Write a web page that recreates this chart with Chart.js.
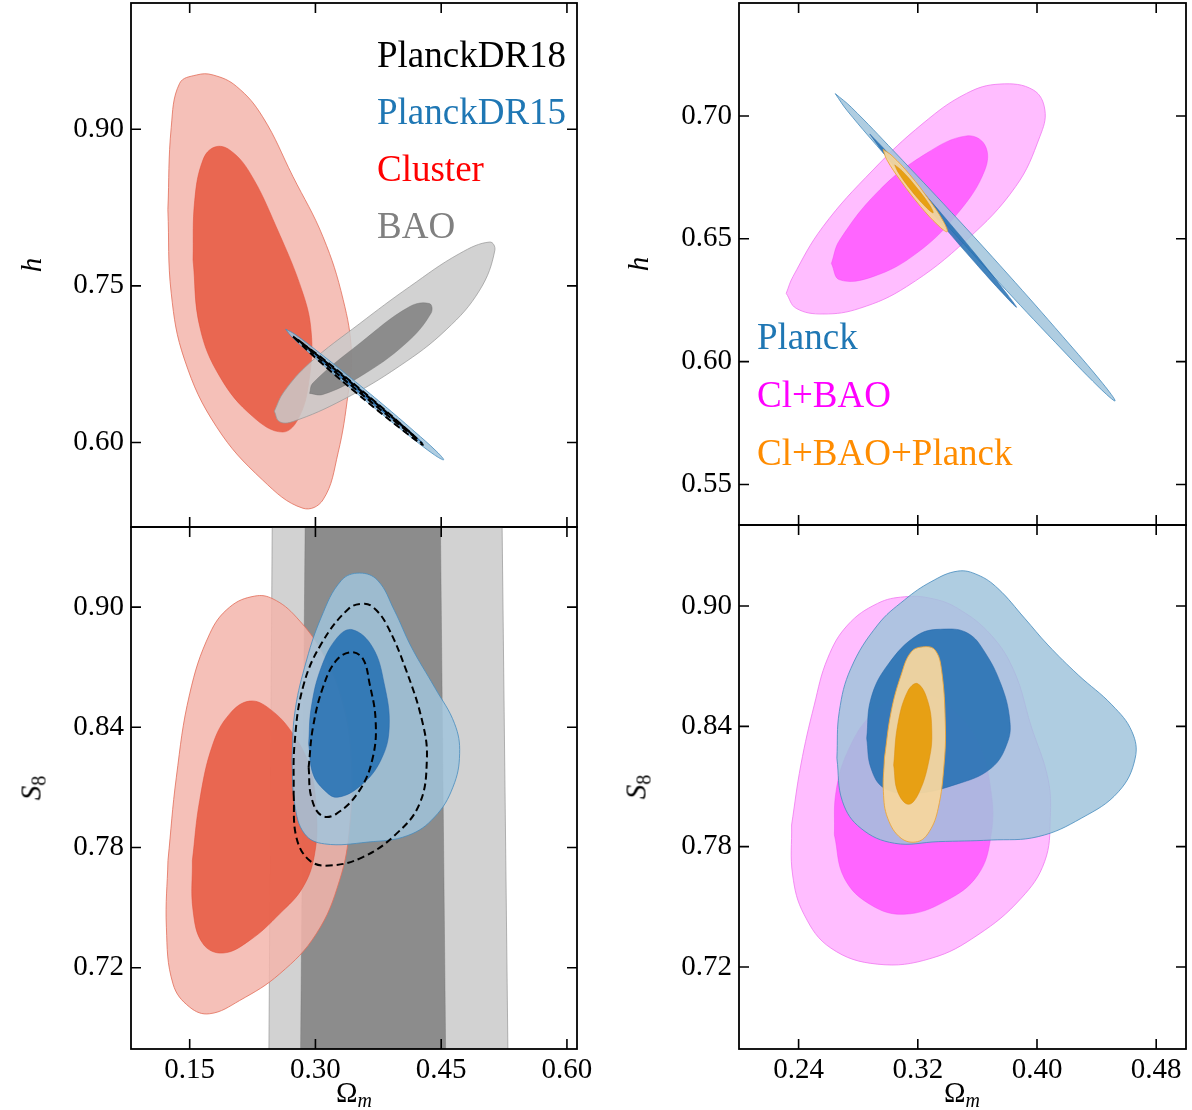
<!DOCTYPE html>
<html>
<head>
<meta charset="utf-8">
<script src="https://cdn.jsdelivr.net/npm/chart.js@4.4.1/dist/chart.umd.min.js"></script>
<style>
  body { margin: 0; background: #fff; }
  #wrap { position: relative; width: 1192px; height: 1110px; overflow: hidden; }
  canvas { position: absolute; left: 0; top: 0; }
  .leg { position: absolute; font: 37px/1 "Liberation Serif", serif; white-space: nowrap; }
  .ax { position: absolute; font: 29px/1 "Liberation Serif", serif; white-space: nowrap; transform: translate(-50%, -50%); }
  .ax.rot { transform: translate(-50%, -50%) rotate(-90deg); }
  .ax sub { font-size: 20px; vertical-align: -5px; line-height: 0; }
</style>
</head>
<body>
<div id="wrap">
  <canvas id="tl" width="1192" height="1110"></canvas>
  <canvas id="bl" width="1192" height="1110"></canvas>
  <canvas id="tr" width="1192" height="1110"></canvas>
  <canvas id="br" width="1192" height="1110"></canvas>
</div>
<script>
// ticks
const xTicksLeft = [0.15, 0.30, 0.45, 0.60];
const xTicksRight = [0.24, 0.32, 0.40, 0.48];
const hTicksLeft = [0.60, 0.75, 0.90];
const hTicksRight = [0.55, 0.60, 0.65, 0.70];
const s8Ticks = [0.72, 0.78, 0.84, 0.90];

// legends
const legendLeft = ['PlanckDR18', 'PlanckDR15', 'Cluster', 'BAO'];
const legendLeftColors = ['#000000', '#1f77b4', '#ff0000', '#808080'];
const legendRight = ['Planck', 'Cl+BAO', 'Cl+BAO+Planck'];
const legendRightColors = ['#1f77b4', '#ff00ff', '#ff8c00'];

// contours, [Omega_m, value] -- left column (h panel)
const clusterHOuter = [[0.124,0.823],[0.128,0.743],[0.144,0.679],[0.182,0.615],[0.237,0.564],[0.285,0.537],[0.309,0.545],[0.327,0.590],[0.339,0.647],[0.343,0.686],[0.333,0.737],[0.309,0.797],[0.273,0.855],[0.237,0.912],[0.206,0.941],[0.178,0.952],[0.158,0.952],[0.138,0.944],[0.128,0.902]];
const clusterHInner = [[0.154,0.775],[0.162,0.711],[0.186,0.663],[0.225,0.625],[0.261,0.610],[0.281,0.625],[0.293,0.663],[0.295,0.705],[0.285,0.743],[0.253,0.807],[0.222,0.858],[0.198,0.880],[0.180,0.883],[0.166,0.871],[0.156,0.832]];
const baoHOuter = [[0.251,0.630],[0.262,0.648],[0.293,0.676],[0.353,0.714],[0.412,0.749],[0.472,0.781],[0.508,0.792],[0.514,0.784],[0.496,0.746],[0.456,0.708],[0.400,0.673],[0.333,0.641],[0.273,0.620],[0.257,0.620]];
const baoHInner = [[0.293,0.647],[0.297,0.657],[0.353,0.695],[0.412,0.730],[0.436,0.733],[0.438,0.724],[0.408,0.695],[0.353,0.663],[0.309,0.646]];
const dr15HOuter = [[0.2645,0.7085],[0.2754,0.7037],[0.3047,0.6859],[0.3428,0.6614],[0.3805,0.6364],[0.4177,0.6108],[0.4449,0.5911],[0.4529,0.5834],[0.4419,0.5881],[0.4126,0.6059],[0.3745,0.6304],[0.3368,0.6555],[0.2996,0.6810],[0.2724,0.7007]];
const dr15HInner = [[0.2732,0.7021],[0.3052,0.6825],[0.3522,0.6522],[0.3982,0.6209],[0.4282,0.5993],[0.3962,0.6189],[0.3492,0.6492],[0.3032,0.6805]];
const dr18HOuter = [[0.2732,0.7014],[0.3057,0.6822],[0.3527,0.6515],[0.3987,0.6199],[0.4282,0.5977],[0.3957,0.6170],[0.3487,0.6476],[0.3027,0.6792]];
const dr18HInner = [[0.2792,0.6983],[0.3151,0.6753],[0.3505,0.6519],[0.3856,0.6283],[0.4203,0.6041],[0.3843,0.6270],[0.3490,0.6504],[0.3138,0.6741]];

// left column (S8 panel)
const baoSOuter = [[0.2486,0.95],[0.5224,0.95],[0.5298,0.67],[0.2444,0.67]];
const baoSInner = [[0.2879,0.95],[0.4489,0.95],[0.4555,0.67],[0.2821,0.67]];
const clusterSOuter = [[0.1241,0.7735],[0.1222,0.7402],[0.1301,0.7119],[0.1500,0.7003],[0.1739,0.6970],[0.2096,0.7036],[0.2573,0.7169],[0.3010,0.7369],[0.3288,0.7636],[0.3408,0.7902],[0.3427,0.8236],[0.3328,0.8517],[0.3090,0.8767],[0.2772,0.8950],[0.2494,0.9041],[0.2275,0.9055],[0.1977,0.9000],[0.1739,0.8867],[0.1500,0.8567],[0.1341,0.8151]];
const clusterSInner = [[0.1532,0.7735],[0.1540,0.7486],[0.1659,0.7319],[0.1897,0.7273],[0.2215,0.7336],[0.2573,0.7469],[0.2851,0.7602],[0.2990,0.7768],[0.3010,0.7985],[0.2931,0.8201],[0.2732,0.8367],[0.2454,0.8492],[0.2215,0.8531],[0.1977,0.8467],[0.1778,0.8318],[0.1619,0.8035]];
const dr15SOuter = [[0.2720,0.8236],[0.2752,0.8018],[0.2871,0.7868],[0.3109,0.7818],[0.3626,0.7827],[0.4103,0.7860],[0.4421,0.7952],[0.4640,0.8101],[0.4720,0.8268],[0.4660,0.8418],[0.4421,0.8600],[0.4145,0.8800],[0.3942,0.8983],[0.3743,0.9133],[0.3527,0.9170],[0.3309,0.9133],[0.3070,0.8950],[0.2871,0.8700],[0.2752,0.8467]];
const dr15SInner = [[0.2919,0.8318],[0.2970,0.8168],[0.3109,0.8085],[0.3264,0.8051],[0.3542,0.8110],[0.3780,0.8236],[0.3880,0.8401],[0.3820,0.8618],[0.3681,0.8800],[0.3443,0.8887],[0.3264,0.8850],[0.3070,0.8700],[0.2951,0.8501]];
const dr18SOuter = [[0.2740,0.8068],[0.2772,0.7852],[0.2931,0.7735],[0.3169,0.7710],[0.3566,0.7752],[0.3964,0.7868],[0.4242,0.8018],[0.4329,0.8236],[0.4281,0.8418],[0.4083,0.8684],[0.3844,0.8917],[0.3685,0.9000],[0.3573,0.9017],[0.3396,0.8992],[0.3070,0.8817],[0.2851,0.8600],[0.2751,0.8318]];
const dr18SInner = [[0.2919,0.8201],[0.2951,0.8051],[0.3070,0.7960],[0.3249,0.7968],[0.3526,0.8085],[0.3685,0.8251],[0.3718,0.8435],[0.3646,0.8618],[0.3566,0.8742],[0.3427,0.8775],[0.3249,0.8734],[0.3090,0.8600],[0.2971,0.8401]];

// right column (h panel)
const clBaoHOuter = [[0.2317,0.6278],[0.2362,0.6346],[0.2563,0.6549],[0.2899,0.6780],[0.3235,0.6970],[0.3527,0.7092],[0.3751,0.7130],[0.3975,0.7106],[0.4053,0.7024],[0.4019,0.6916],[0.3857,0.6713],[0.3527,0.6495],[0.3124,0.6305],[0.2810,0.6217],[0.2563,0.6194],[0.2384,0.6217]];
const clBaoHInner = [[0.2620,0.6400],[0.2676,0.6495],[0.2944,0.6699],[0.3258,0.6848],[0.3527,0.6919],[0.3650,0.6882],[0.3650,0.6780],[0.3468,0.6604],[0.3191,0.6441],[0.2899,0.6346],[0.2676,0.6333]];
const planckHOuter = [[0.2646,0.7091],[0.2753,0.7036],[0.3045,0.6853],[0.3427,0.6607],[0.3803,0.6357],[0.4172,0.6103],[0.4443,0.5910],[0.4524,0.5840],[0.4417,0.5895],[0.4125,0.6077],[0.3743,0.6324],[0.3368,0.6574],[0.2999,0.6828],[0.2727,0.7021]];
const planckHInner = [[0.2877,0.6927],[0.2984,0.6860],[0.3188,0.6723],[0.3387,0.6583],[0.3583,0.6441],[0.3773,0.6296],[0.3863,0.6221],[0.3756,0.6287],[0.3552,0.6425],[0.3353,0.6565],[0.3157,0.6707],[0.2967,0.6852]];
const allHOuter = [[0.2967,0.6864],[0.3027,0.6838],[0.3146,0.6761],[0.3276,0.6659],[0.3372,0.6571],[0.3397,0.6529],[0.3336,0.6555],[0.3218,0.6632],[0.3088,0.6734],[0.2992,0.6822]];
const allHInner = [[0.3045,0.6801],[0.3094,0.6777],[0.3188,0.6712],[0.3276,0.6641],[0.3303,0.6606],[0.3253,0.6630],[0.3157,0.6696],[0.3072,0.6767]];

// right column (S8 panel)
const clBaoSOuter = [[0.2353,0.7908],[0.2360,0.7659],[0.2438,0.7460],[0.2617,0.7294],[0.2930,0.7214],[0.3289,0.7243],[0.3603,0.7360],[0.3894,0.7543],[0.4051,0.7725],[0.4089,0.7942],[0.4073,0.8141],[0.3958,0.8407],[0.3848,0.8672],[0.3692,0.8855],[0.3468,0.8988],[0.3289,0.9038],[0.3110,0.9046],[0.2930,0.9013],[0.2729,0.8905],[0.2595,0.8739],[0.2505,0.8506],[0.2415,0.8207]];
const clBaoSInner = [[0.2640,0.7859],[0.2707,0.7643],[0.2886,0.7509],[0.3110,0.7463],[0.3379,0.7526],[0.3603,0.7659],[0.3692,0.7859],[0.3692,0.8074],[0.3603,0.8324],[0.3423,0.8490],[0.3268,0.8556],[0.3110,0.8565],[0.2886,0.8457],[0.2729,0.8274],[0.2651,0.8074]];
const planckSOuter = [[0.2657,0.8241],[0.2695,0.8024],[0.2819,0.7891],[0.3043,0.7817],[0.3337,0.7825],[0.3692,0.7833],[0.4008,0.7850],[0.4298,0.7942],[0.4547,0.8074],[0.4659,0.8241],[0.4637,0.8374],[0.4503,0.8507],[0.4277,0.8656],[0.4073,0.8806],[0.3917,0.8939],[0.3737,0.9088],[0.3603,0.9155],[0.3468,0.9174],[0.3289,0.9121],[0.3110,0.9030],[0.2930,0.8905],[0.2751,0.8689],[0.2673,0.8473]];
const planckSInner = [[0.2857,0.8340],[0.2886,0.8191],[0.2976,0.8091],[0.3177,0.8066],[0.3446,0.8108],[0.3692,0.8191],[0.3804,0.8324],[0.3816,0.8440],[0.3760,0.8606],[0.3648,0.8772],[0.3536,0.8864],[0.3379,0.8885],[0.3198,0.8855],[0.2998,0.8706],[0.2886,0.8540]];
const allSOuter = [[0.2976,0.8241],[0.2969,0.8074],[0.2998,0.7942],[0.3088,0.7842],[0.3198,0.7825],[0.3277,0.7875],[0.3337,0.7991],[0.3376,0.8207],[0.3385,0.8407],[0.3358,0.8689],[0.3315,0.8781],[0.3245,0.8797],[0.3157,0.8772],[0.3088,0.8656],[0.3021,0.8473]];
const allSInner = [[0.3038,0.8207],[0.3065,0.8074],[0.3138,0.8011],[0.3211,0.8074],[0.3278,0.8241],[0.3294,0.8373],[0.3268,0.8523],[0.3198,0.8613],[0.3131,0.8573],[0.3065,0.8407]];

const W = 1192, H = 1110;
const tickFont = { family: 'Liberation Serif', size: 29 };

const red = ['rgba(243,181,171,0.85)', 'rgba(226,110,90,0.8)', 'rgba(232,88,64,0.85)', 'rgba(226,74,51,0.5)'];
const gray = ['rgba(202,202,202,0.85)', 'rgba(150,150,150,0.7)', 'rgba(128,128,128,0.85)', 'rgba(110,110,110,0.4)'];
const blue = ['rgba(161,196,220,0.85)', 'rgba(70,140,190,0.8)', 'rgba(34,111,178,0.85)', 'rgba(31,100,170,0.5)'];
const magenta = ['rgba(255,178,255,0.85)', 'rgba(240,120,240,0.8)', 'rgba(255,86,255,0.85)', 'rgba(240,60,240,0.4)'];
const orange = ['rgba(246,214,158,0.95)', 'rgba(235,165,60,0.9)', 'rgba(231,157,13,0.95)', 'rgba(220,140,10,0.5)'];

const closed = (arr) => arr.concat([arr[0]]).map(([x, y]) => ({ x, y }));

function filled(arr, bg, line, tension = 0.4) {
    return { data: closed(arr), backgroundColor: bg, borderColor: line, borderWidth: 1, fill: 'shape', tension: tension, pointRadius: 0 };
}
function pair(outer, inner, c, tension) {
    return [filled(outer, c[0], c[1], tension), filled(inner, c[2], c[3], tension)];
}
function dashed(arr) {
    return { data: closed(arr), borderColor: '#000', borderWidth: 2, borderDash: [7, 4], fill: false, tension: 0.4, pointRadius: 0 };
}

// box and inward ticks on all four sides
const frameTicks = {
    id: 'frameTicks',
    afterDraw(chart) {
        const { ctx, chartArea: a, scales: { x, y } } = chart;
        ctx.save();
        ctx.strokeStyle = '#000';
        ctx.lineWidth = 1.6;
        ctx.beginPath();
        x.ticks.forEach(t => {
            const px = x.getPixelForValue(t.value);
            ctx.moveTo(px, a.bottom); ctx.lineTo(px, a.bottom - 10);
            ctx.moveTo(px, a.top); ctx.lineTo(px, a.top + 10);
        });
        y.ticks.forEach(t => {
            const py = y.getPixelForValue(t.value);
            ctx.moveTo(a.left, py); ctx.lineTo(a.left + 10, py);
            ctx.moveTo(a.right, py); ctx.lineTo(a.right - 10, py);
        });
        ctx.stroke();
        ctx.lineWidth = 1.8;
        ctx.strokeRect(a.left, a.top, a.right - a.left, a.bottom - a.top);
        ctx.restore();
    }
};

function makePanel(id, box, xRange, yRange, xTicks, yTicks, showX, sets) {
    new Chart(document.getElementById(id), {
        type: 'line',
        data: { datasets: sets.map((s, i) => ({ ...s, order: sets.length - i })) },
        options: {
            responsive: false,
            animation: false,
            layout: { padding: { left: 0, top: box.t, right: W - box.r, bottom: 0 } },
            plugins: { legend: { display: false }, tooltip: { enabled: false } },
            scales: {
                x: {
                    type: 'linear', min: xRange[0], max: xRange[1],
                    grid: { display: false, drawTicks: false }, border: { display: false },
                    afterBuildTicks: s => { s.ticks = xTicks.map(v => ({ value: v })); },
                    afterFit: s => { s.height = H - box.b; s.paddingLeft = 0; s.paddingRight = 0; },
                    ticks: { display: showX, padding: 4, maxRotation: 0, autoSkip: false, color: '#000', font: tickFont, callback: v => v.toFixed(2) }
                },
                y: {
                    type: 'linear', min: yRange[0], max: yRange[1],
                    grid: { display: false, drawTicks: false }, border: { display: false },
                    afterBuildTicks: s => { s.ticks = yTicks.map(v => ({ value: v })); },
                    afterFit: s => { s.width = box.l; s.paddingTop = 0; s.paddingBottom = 0; },
                    ticks: { padding: 7, autoSkip: false, color: '#000', font: tickFont, callback: v => v.toFixed(2) }
                }
            }
        },
        plugins: [frameTicks]
    });
}

makePanel('tl', { l: 131, r: 577, t: 3, b: 527 }, [0.08, 0.612], [0.519, 1.021], xTicksLeft, hTicksLeft, false, [
    ...pair(clusterHOuter, clusterHInner, red),
    ...pair(baoHOuter, baoHInner, gray),
    ...pair(dr15HOuter, dr15HInner, blue),
    dashed(dr18HOuter), dashed(dr18HInner)
]);

makePanel('bl', { l: 131, r: 577, t: 527, b: 1049 }, [0.08, 0.612], [0.6794, 0.940], xTicksLeft, s8Ticks, true, [
    ...pair(baoSOuter, baoSInner, gray, 0),
    ...pair(clusterSOuter, clusterSInner, red),
    ...pair(dr15SOuter, dr15SInner, blue),
    dashed(dr18SOuter), dashed(dr18SInner)
]);

makePanel('tr', { l: 739, r: 1186, t: 3, b: 525 }, [0.2, 0.5], [0.5335, 0.746], xTicksRight, hTicksRight, false, [
    ...pair(clBaoHOuter, clBaoHInner, magenta),
    ...pair(planckHOuter, planckHInner, blue),
    ...pair(allHOuter, allHInner, orange)
]);

makePanel('br', { l: 739, r: 1186, t: 525, b: 1049 }, [0.2, 0.5], [0.6791, 0.9404], xTicksRight, s8Ticks, true, [
    ...pair(clBaoSOuter, clBaoSInner, magenta),
    ...pair(planckSOuter, planckSInner, blue),
    ...pair(allSOuter, allSInner, orange)
]);

// text overlays: legends and axis titles
const wrap = document.getElementById('wrap');
function addText(cls, html, left, top, color) {
    const d = document.createElement('div');
    d.className = cls;
    d.innerHTML = html;
    d.style.left = left + 'px';
    d.style.top = top + 'px';
    if (color) d.style.color = color;
    wrap.appendChild(d);
}
const leftBaselines = [67, 124, 181, 238];
legendLeft.forEach((t, i) => addText('leg', t, 377, leftBaselines[i] - 31, legendLeftColors[i]));
const rightBaselines = [349, 407, 465];
legendRight.forEach((t, i) => addText('leg', t, 757, rightBaselines[i] - 31, legendRightColors[i]));

addText('ax rot', '<i>h</i>', 31, 265);
addText('ax rot', '<i>h</i>', 638, 264);
addText('ax rot', '<i>S</i><sub>8</sub>', 31, 788);
addText('ax rot', '<i>S</i><sub>8</sub>', 636, 787);
addText('ax', 'Ω<sub><i>m</i></sub>', 354, 1092);
addText('ax', 'Ω<sub><i>m</i></sub>', 962, 1092);
</script>
</body>
</html>
